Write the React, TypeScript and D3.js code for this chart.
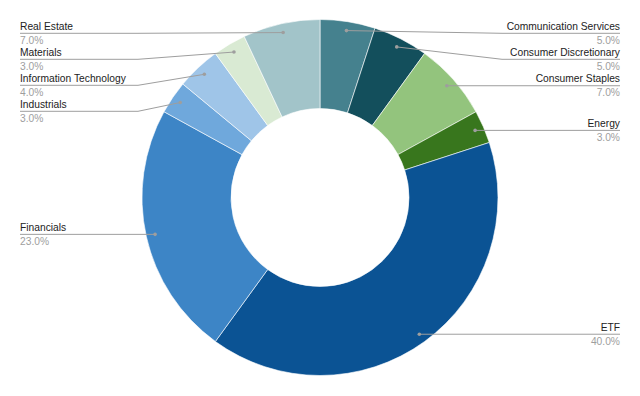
import React from "react";
import * as d3 from "d3";

const categories = [
  "Communication Services",
  "Consumer Discretionary",
  "Consumer Staples",
  "Energy",
  "ETF",
  "Financials",
  "Industrials",
  "Information Technology",
  "Materials",
  "Real Estate",
];
const values = [5, 5, 7, 3, 40, 23, 3, 4, 3, 7];
const colors = [
  "#45818e",
  "#134f5c",
  "#93c47d",
  "#38761d",
  "#0b5394",
  "#3d85c6",
  "#6fa8dc",
  "#9fc5e8",
  "#d9ead3",
  "#a2c4c9",
];

const W = 640;
const H = 396;
const cx = 320;
const cy = 197.5;
const R = 178;
const r = 89;
const dotR = 169;
const bendOffset = 182;
const labelLeft = 20;
const labelRight = 620;
const spacing = 26;
const minY = 33.3;

export default function App() {
  const total = d3.sum(values);
  const pie = d3
    .pie<number>()
    .sort(null)
    .value((d) => d)(values);
  const arc = d3.arc<d3.PieArcDatum<number>>().innerRadius(r).outerRadius(R);

  type L = {
    i: number;
    dx: number;
    dy: number;
    right: boolean;
    ly: number;
  };
  const labels: L[] = pie.map((p, i) => {
    const a = (p.startAngle + p.endAngle) / 2;
    const dx = cx + dotR * Math.sin(a);
    const dy = cy - dotR * Math.cos(a);
    return { i, dx, dy, right: a < Math.PI, ly: dy };
  });
  for (const side of [true, false]) {
    const s = labels.filter((l) => l.right === side).sort((a, b) => a.dy - b.dy);
    let prev = -Infinity;
    s.forEach((l) => {
      l.ly = Math.max(l.dy, prev + spacing, minY);
      prev = l.ly;
    });
  }

  const fmt = (v: number) => ((v / total) * 100).toFixed(1) + "%";

  return (
    <svg
      width={W}
      height={H}
      style={{ position: "absolute", left: 0, top: 0, background: "#fff" }}
      fontFamily="Arial, 'Liberation Sans', sans-serif"
    >
      <g transform={`translate(${cx},${cy})`}>
        {pie.map((p, i) => (
          <path key={i} d={arc(p) || ""} fill={colors[i]} stroke="#fff" strokeWidth={0.6} />
        ))}
      </g>
      {labels.map((l) => {
        const bx = l.right ? cx + bendOffset : cx - bendOffset;
        const ex = l.right ? labelRight : labelLeft;
        const pts = `${l.dx},${l.dy} ${bx},${l.ly} ${ex},${l.ly}`;
        return (
          <g key={l.i}>
            <polyline points={pts} fill="none" stroke="#9e9e9e" strokeWidth={1} />
            <circle cx={l.dx} cy={l.dy} r={1.8} fill="#9e9e9e" />
            <text
              x={ex}
              y={l.ly - 3.4}
              fontSize={10.25}
              fill="#222"
              textAnchor={l.right ? "end" : "start"}
            >
              {categories[l.i]}
            </text>
            <text
              x={ex}
              y={l.ly + 10.6}
              fontSize={10.25}
              fill="#9e9e9e"
              textAnchor={l.right ? "end" : "start"}
            >
              {fmt(values[l.i])}
            </text>
          </g>
        );
      })}
    </svg>
  );
}
